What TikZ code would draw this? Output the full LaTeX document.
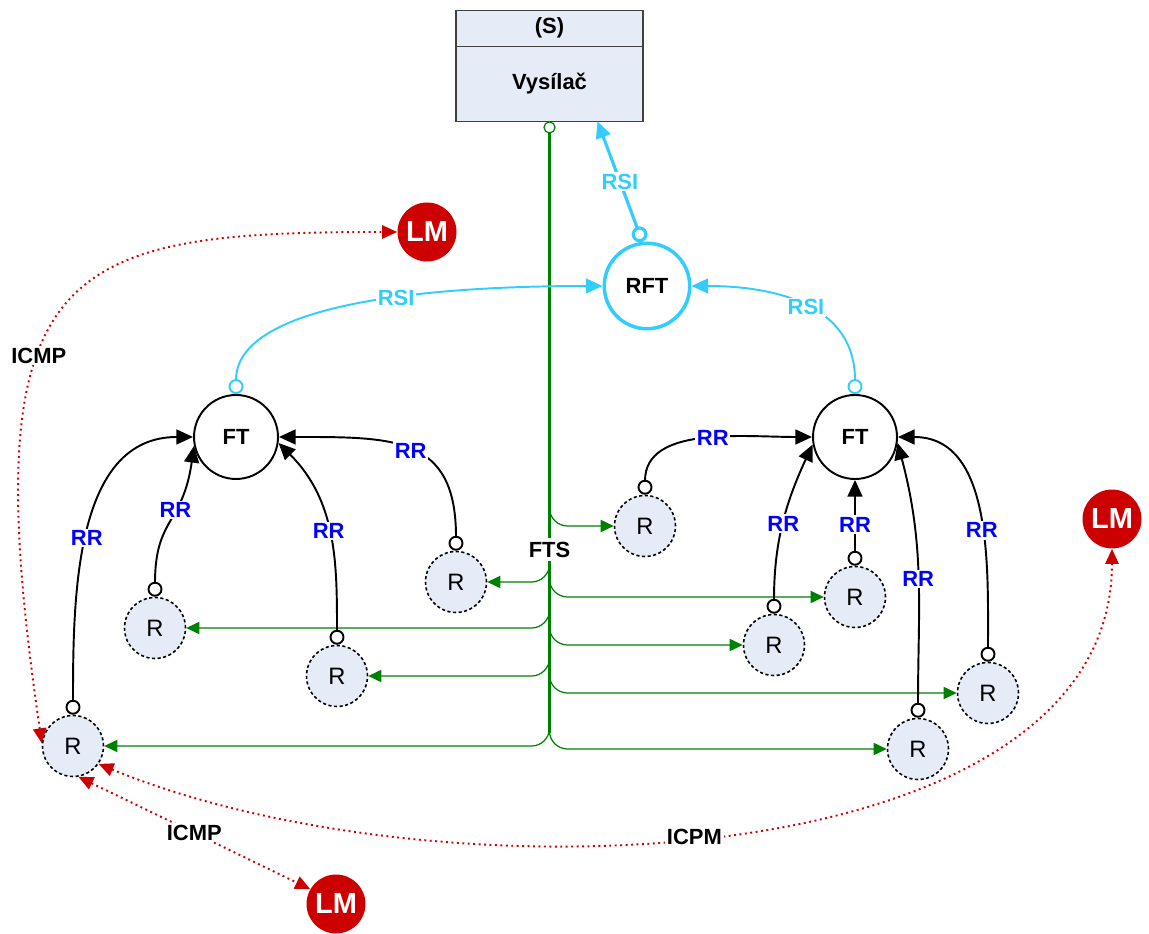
\documentclass[tikz,border=0pt]{standalone}
\usepackage{fontspec}
\setmainfont{Liberation Sans}
\usepackage{tikz}
\usetikzlibrary{arrows.meta}
\usetikzlibrary{positioning}
\definecolor{rsiblue}{HTML}{33CCFF}
\definecolor{rrblue}{HTML}{0000FF}
\definecolor{ftsgreen}{HTML}{008000}
\definecolor{lmred}{HTML}{CC0000}
\definecolor{rfill}{RGB}{230,236,247}
\newcommand{\lblfont}{\fontsize{12.5}{14}\selectfont\bfseries}
\tikzset{>={Triangle[length=9.5pt,width=8.5pt]}}

\begin{document}
\begin{tikzpicture}[x=0.02cm, y=0.02cm,
	box/.style={rectangle, draw=black!75, fill=rfill, line width=0.8pt, minimum width=3.74cm, inner sep=0pt, outer sep=0pt, font=\lblfont},
	ft/.style={circle, draw=black, line width=1.1pt, minimum size=1.68cm, inner sep=0pt, font=\lblfont},
	rftnode/.style={ft, draw=rsiblue, line width=2pt, minimum size=1.71cm},
	rnode/.style={circle, draw=black, fill=rfill, line width=0.9pt, dash pattern=on 1.8pt off 1.4pt, minimum size=1.22cm, inner sep=0pt, font=\fontsize{13.5}{15}\selectfont},
	lm/.style={circle, fill=lmred, text=white, minimum size=1.18cm, inner sep=0pt, font=\fontsize{16.5}{18}\selectfont\bfseries},
	rr/.style={{Circle[open,length=8.5pt]}->, line width=1.1pt},
	rrlbl/.style={fill=white, text=rrblue, inner sep=1pt, font=\lblfont},
	rsi/.style={{Circle[open,length=8.5pt]}->, rsiblue, line width=1.1pt},
	rsilbl/.style={fill=white, text=rsiblue, inner sep=1pt, font=\lblfont},
	fts/.style={-{Triangle[length=7.5pt,width=7pt]}, ftsgreen, line width=0.7pt, rounded corners=0.36cm},
	bus/.style={{Circle[open,length=7pt,line width=0.7pt]}-, ftsgreen, line width=1.7pt},
	icmp/.style={{Triangle[length=8.5pt,width=7.5pt]}-{Triangle[length=8.5pt,width=7.5pt]}, lmred, line width=1.1pt, dotted},
	icmplbl/.style={fill=white, text=black, inner sep=1pt, font=\lblfont}]

	\useasboundingbox (0,0) rectangle (1149,933);

	% sender
	\node[box, minimum height=0.72cm] (stitle) at (549.5,904.7) {(S)};
	\node[box, minimum height=1.5cm, below=0pt of stitle] (send) {Vysílač};

	% forwarding terminals
	\node[rftnode] (rft) at (647,647) {RFT};
	\node[ft] (ftl) at (236,496) {FT};
	\node[ft] (ftr) at (855,496) {FT};

	% receivers
	\node[rnode] (r1) at (73,187) {R};
	\node[rnode] (r2) at (155,305) {R};
	\node[rnode] (r3) at (337,257) {R};
	\node[rnode] (r4) at (456,351) {R};
	\node[rnode] (r5) at (645,407) {R};
	\node[rnode] (r6) at (855,336) {R};
	\node[rnode] (r7) at (774,288) {R};
	\node[rnode] (r8) at (988,240) {R};
	\node[rnode] (r9) at (918,184) {R};

	% local managers
	\node[lm] (lm1) at (427,701) {LM};
	\node[lm] (lm2) at (1112,414) {LM};
	\node[lm] (lm3) at (336,29) {LM};

	% FTS tree
	\coordinate (busend) at (549.5,200);
	\foreach \r in {r5,r6,r7,r8,r9}
		\draw[fts] (busend |- \r.north) |- (\r.west);
	\foreach \r in {r1,r2,r3,r4}
		\draw[fts] (busend |- \r.north) |- (\r.east);
	\draw[bus] (send.south) -- node[pos=0.7, fill=white, text=black, inner sep=2pt, font=\lblfont] (fts) {FTS} (busend);

	% receiver reports
	\path[rr]
		(r1.north) edge[out=90,in=180] node[rrlbl,pos=0.48] {RR} (ftl.west)
		(r2.north) edge[out=90,in=262,looseness=1.3] node[rrlbl,pos=0.6] {RR} (ftl.192)
		(r3.north) edge[out=90,in=-45] node[rrlbl,pos=0.52] {RR} (ftl.-8)
		(r4.north) edge[out=90,in=0,looseness=1.4] node[rrlbl,pos=0.5] {RR} (ftl.east)
		(r5.north) edge[out=90,in=180] node[rrlbl,pos=0.55] {RR} (ftr.west)
		(r7.north) edge[out=90,in=245] node[rrlbl,pos=0.52] {RR} (ftr.190)
		(r6.north) edge node[rrlbl,pos=0.48] {RR} (ftr.south)
		(r9.north) edge[out=90,in=-75] node[rrlbl,pos=0.5] {RR} (ftr.-8)
		(r8.north) edge[out=90,in=0] node[rrlbl,pos=0.44] {RR} (ftr.east);

	% RSI
	\path[rsi]
		(ftl.north) edge[out=90,in=180,out looseness=0.6,in looseness=1.2] node[rsilbl,pos=0.6] {RSI} (rft.west)
		(ftr.north) edge[out=90,in=0,out looseness=1.3,in looseness=0.8] node[rsilbl,pos=0.45] {RSI} (rft.east);
	\draw[rsi, line width=1.8pt, {Circle[open,length=9pt]}->] (rft.96) -- node[rsilbl] {RSI} (send.-38);

	% ICMP
	\draw[icmp] (r1.175) .. controls +(-70,480) and +(-340,0) .. node[icmplbl,pos=0.4] {ICMP} (lm1.west);
	\draw[icmp] (r1.-80) -- node[icmplbl] {ICMP} (lm3.150);
	\draw[icmp] (r1.-35) .. controls +(340,-140) and +(0,-330) .. node[icmplbl,pos=0.47] {ICPM} (lm2.south);
\end{tikzpicture}
\end{document}
